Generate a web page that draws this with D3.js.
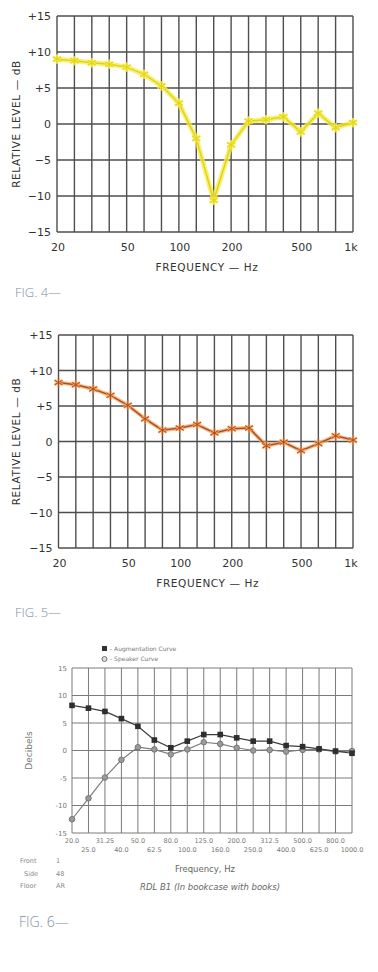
<!DOCTYPE html>
<html>
<head>
<meta charset="utf-8">
<script src="https://cdn.jsdelivr.net/npm/d3@7"></script>
<style>
  body { margin: 0; background: #fff; }
  svg { display: block; }
</style>
</head>
<body>
<svg id="chart" width="378" height="972"></svg>
<script>
// 1/3 octave bands, one per grid line
var freqs = ["20", "25", "31.5", "40", "50", "63", "80", "100", "125", "160",
             "200", "250", "315", "400", "500", "630", "800", "1000"];
var freqLabels = { "20": "20", "50": "50", "100": "100", "200": "200", "500": "500", "1000": "1k" };
var dbTicks = [15, 10, 5, 0, -5, -10, -15];

// fig 4
var fig4Level = [9, 8.8, 8.5, 8.3, 7.9, 6.9, 5.3, 2.9, -2, -10.6, -2.9, 0.4, 0.6, 1,
                 -1.1, 1.5, -0.5, 0.2];
// fig 5
var fig5Level = [8.3, 8.0, 7.4, 6.5, 5.1, 3.2, 1.6, 1.9, 2.4, 1.2, 1.8, 1.9, -0.6, -0.1,
                 -1.3, -0.3, 0.8, 0.2];

// fig 6
var fig6Upper = ["20.0", "31.25", "50.0", "80.0", "125.0", "200.0", "312.5", "500.0", "800.0"];
var fig6Lower = ["25.0", "40.0", "62.5", "100.0", "160.0", "250.0", "400.0", "625.0", "1000.0"];
var augmentation = [8.2, 7.7, 7.1, 5.8, 4.4, 1.9, 0.5, 1.7, 2.9, 2.9, 2.3, 1.7, 1.7, 0.9,
                    0.7, 0.3, -0.1, -0.5];
var speaker = [-12.5, -8.7, -4.9, -1.7, 0.6, 0.2, -0.7, 0.2, 1.5, 1.2, 0.5, 0, 0.1, -0.2,
               0.1, 0.2, -0.2, -0.1];

var svg = d3.select("#chart");
var letterFont = "'DejaVu Sans', sans-serif";

function drawLevelChart(box, values, halo, haloWidth, stroke, figText, figY) {
    var x = d3.scalePoint().domain(freqs).range([box.left, box.right]);
    var y = d3.scaleLinear().domain([-15, 15]).range([box.bottom, box.top]);
    var g = svg.append("g");

    // grid
    g.selectAll("line.v").data(freqs).enter().append("line")
        .attr("x1", function (d) { return x(d); })
        .attr("x2", function (d) { return x(d); })
        .attr("y1", box.top).attr("y2", box.bottom)
        .attr("stroke", "#4e4e4e").attr("stroke-width", 1.4);
    g.selectAll("line.h").data(dbTicks).enter().append("line")
        .attr("x1", box.left).attr("x2", box.right)
        .attr("y1", function (d) { return y(d); })
        .attr("y2", function (d) { return y(d); })
        .attr("stroke", "#4e4e4e").attr("stroke-width", 1.4);

    // y labels
    g.selectAll("text.yt").data(dbTicks).enter().append("text")
        .attr("x", box.left - 6)
        .attr("y", function (d) { return y(d) + 4; })
        .attr("text-anchor", "end")
        .attr("font-family", letterFont).attr("font-size", 11).attr("fill", "#333")
        .text(function (d) { return d > 0 ? "+" + d : (d < 0 ? "\u2212" + (-d) : "0"); });

    // x labels
    g.selectAll("text.xt").data(freqs.filter(function (f) { return freqLabels[f]; }))
        .enter().append("text")
        .attr("x", function (d) { return x(d) + (d == "1000" ? -2 : 1); })
        .attr("y", box.bottom + 19)
        .attr("text-anchor", "middle")
        .attr("font-family", letterFont).attr("font-size", 11).attr("fill", "#333")
        .text(function (d) { return freqLabels[d]; });

    g.append("text")
        .attr("x", (box.left + box.right) / 2 + 2)
        .attr("y", box.bottom + 39)
        .attr("text-anchor", "middle")
        .attr("font-family", letterFont).attr("font-size", 10.5).attr("fill", "#333")
        .attr("letter-spacing", 0.6)
        .text("FREQUENCY \u2014 Hz");

    g.append("text")
        .attr("transform", "translate(20," + ((box.top + box.bottom) / 2) + ") rotate(-90)")
        .attr("text-anchor", "middle")
        .attr("font-family", letterFont).attr("font-size", 10.5).attr("fill", "#333")
        .attr("letter-spacing", 0.6)
        .text("RELATIVE LEVEL \u2014 dB");

    // curve
    var line = d3.line()
        .x(function (d, i) { return x(freqs[i]); })
        .y(function (d) { return y(d); });
    g.append("path").datum(values)
        .attr("d", line).attr("fill", "none")
        .attr("stroke", halo).attr("stroke-width", haloWidth).attr("stroke-linejoin", "round")
        .attr("opacity", 0.75);
    g.append("path").datum(values)
        .attr("d", line).attr("fill", "none")
        .attr("stroke", stroke).attr("stroke-width", 1.5);

    var star = d3.symbol().type(d3.symbolAsterisk).size(60);
    g.selectAll("path.mk").data(values).enter().append("path")
        .attr("d", star)
        .attr("transform", function (d, i) { return "translate(" + x(freqs[i]) + "," + y(d) + ")"; })
        .attr("fill", "none").attr("stroke", halo).attr("stroke-width", 2.4);
    g.selectAll("path.mk2").data(values).enter().append("path")
        .attr("d", star)
        .attr("transform", function (d, i) { return "translate(" + x(freqs[i]) + "," + y(d) + ")"; })
        .attr("fill", "none").attr("stroke", stroke).attr("stroke-width", 1);

    g.append("text")
        .attr("x", 15).attr("y", figY)
        .attr("font-family", "'Open Sans', sans-serif").attr("font-size", 13)
        .attr("fill", "#7d8da3").attr("font-weight", 300)
        .text(figText);
}

drawLevelChart({ left: 57, right: 353, top: 16, bottom: 232 }, fig4Level,
    "#f3ec4a", 5, "#e4d21a", "FIG. 4\u2014", 297);
drawLevelChart({ left: 58.5, right: 353, top: 335, bottom: 548 }, fig5Level,
    "#f2ad62", 4, "#b04a2a", "FIG. 5\u2014", 617);

// fig 6
(function () {
    var box = { left: 72, right: 352, top: 668, bottom: 833 };
    var x = d3.scalePoint().domain(freqs).range([box.left, box.right]);
    var y = d3.scaleLinear().domain([-15, 15]).range([box.bottom, box.top]);
    var g = svg.append("g");
    var small = "'DejaVu Sans', sans-serif";

    g.selectAll("line.v").data(freqs).enter().append("line")
        .attr("x1", function (d) { return x(d); })
        .attr("x2", function (d) { return x(d); })
        .attr("y1", box.top).attr("y2", box.bottom)
        .attr("stroke", "#7a7a7a").attr("stroke-width", 1);
    g.selectAll("line.h").data(dbTicks).enter().append("line")
        .attr("x1", box.left).attr("x2", box.right)
        .attr("y1", function (d) { return y(d); })
        .attr("y2", function (d) { return y(d); })
        .attr("stroke", "#7a7a7a").attr("stroke-width", 1);

    g.selectAll("text.yt").data(dbTicks).enter().append("text")
        .attr("x", box.left - 5)
        .attr("y", function (d) { return y(d) + 2.5; })
        .attr("text-anchor", "end")
        .attr("font-family", small).attr("font-size", 7).attr("fill", "#777")
        .text(function (d) { return d; });

    g.selectAll("text.xu").data(fig6Upper).enter().append("text")
        .attr("x", function (d, i) { return x(freqs[i * 2]); })
        .attr("y", box.bottom + 10)
        .attr("text-anchor", "middle")
        .attr("font-family", small).attr("font-size", 6.5).attr("fill", "#777")
        .text(function (d) { return d; });
    g.selectAll("text.xl").data(fig6Lower).enter().append("text")
        .attr("x", function (d, i) { return x(freqs[i * 2 + 1]); })
        .attr("y", box.bottom + 19)
        .attr("text-anchor", "middle")
        .attr("font-family", small).attr("font-size", 6.5).attr("fill", "#777")
        .text(function (d) { return d; });

    g.append("text")
        .attr("x", 205).attr("y", 872)
        .attr("text-anchor", "middle")
        .attr("font-family", small).attr("font-size", 8.5).attr("fill", "#666")
        .text("Frequency, Hz");
    g.append("text")
        .attr("x", 210).attr("y", 890)
        .attr("text-anchor", "middle")
        .attr("font-family", small).attr("font-size", 8.5).attr("font-style", "italic")
        .attr("fill", "#666")
        .text("RDL B1 (In bookcase with books)");
    g.append("text")
        .attr("transform", "translate(32," + ((box.top + box.bottom) / 2) + ") rotate(-90)")
        .attr("text-anchor", "middle")
        .attr("font-family", small).attr("font-size", 9).attr("fill", "#777")
        .text("Decibels");

    // setup notes
    var notes = [["Front", "1"], ["Side", "48"], ["Floor", "AR"]];
    g.selectAll("text.nk").data(notes).enter().append("text")
        .attr("x", function (d, i) { return i == 1 ? 24 : 20; })
        .attr("y", function (d, i) { return 863 + i * 12.5; })
        .attr("font-family", small).attr("font-size", 6.5).attr("fill", "#888")
        .text(function (d) { return d[0]; });
    g.selectAll("text.nv").data(notes).enter().append("text")
        .attr("x", 56)
        .attr("y", function (d, i) { return 863 + i * 12.5; })
        .attr("font-family", small).attr("font-size", 6.5).attr("fill", "#888")
        .text(function (d) { return d[1]; });

    // legend
    g.append("rect").attr("x", 102).attr("y", 646).attr("width", 5).attr("height", 5)
        .attr("fill", "#333");
    g.append("text").attr("x", 110).attr("y", 651)
        .attr("font-family", small).attr("font-size", 6).attr("fill", "#777")
        .text("- Augmentation Curve");
    g.append("circle").attr("cx", 104.5).attr("cy", 659).attr("r", 2.5)
        .attr("fill", "#ddd").attr("stroke", "#666").attr("stroke-width", 0.9);
    g.append("text").attr("x", 110).attr("y", 661)
        .attr("font-family", small).attr("font-size", 6).attr("fill", "#777")
        .text("- Speaker Curve");

    var line = d3.line()
        .x(function (d, i) { return x(freqs[i]); })
        .y(function (d) { return y(d); });
    g.append("path").datum(speaker).attr("d", line).attr("fill", "none")
        .attr("stroke", "#7d7d7d").attr("stroke-width", 1.2);
    g.append("path").datum(augmentation).attr("d", line).attr("fill", "none")
        .attr("stroke", "#3c3c3c").attr("stroke-width", 1.2);

    g.selectAll("circle.sp").data(speaker).enter().append("circle")
        .attr("cx", function (d, i) { return x(freqs[i]); })
        .attr("cy", function (d) { return y(d); })
        .attr("r", 2.8)
        .attr("fill", "#9a9a9a").attr("stroke", "#6a6a6a").attr("stroke-width", 0.8);
    g.selectAll("rect.au").data(augmentation).enter().append("rect")
        .attr("x", function (d, i) { return x(freqs[i]) - 2.8; })
        .attr("y", function (d) { return y(d) - 2.8; })
        .attr("width", 5.6).attr("height", 5.6)
        .attr("fill", "#2e2e2e");

    g.append("text")
        .attr("x", 19).attr("y", 927)
        .attr("font-family", "'Open Sans', sans-serif").attr("font-size", 14)
        .attr("fill", "#7d8da3").attr("font-weight", 300)
        .text("FIG. 6\u2014");
})();
</script>
</body>
</html>
